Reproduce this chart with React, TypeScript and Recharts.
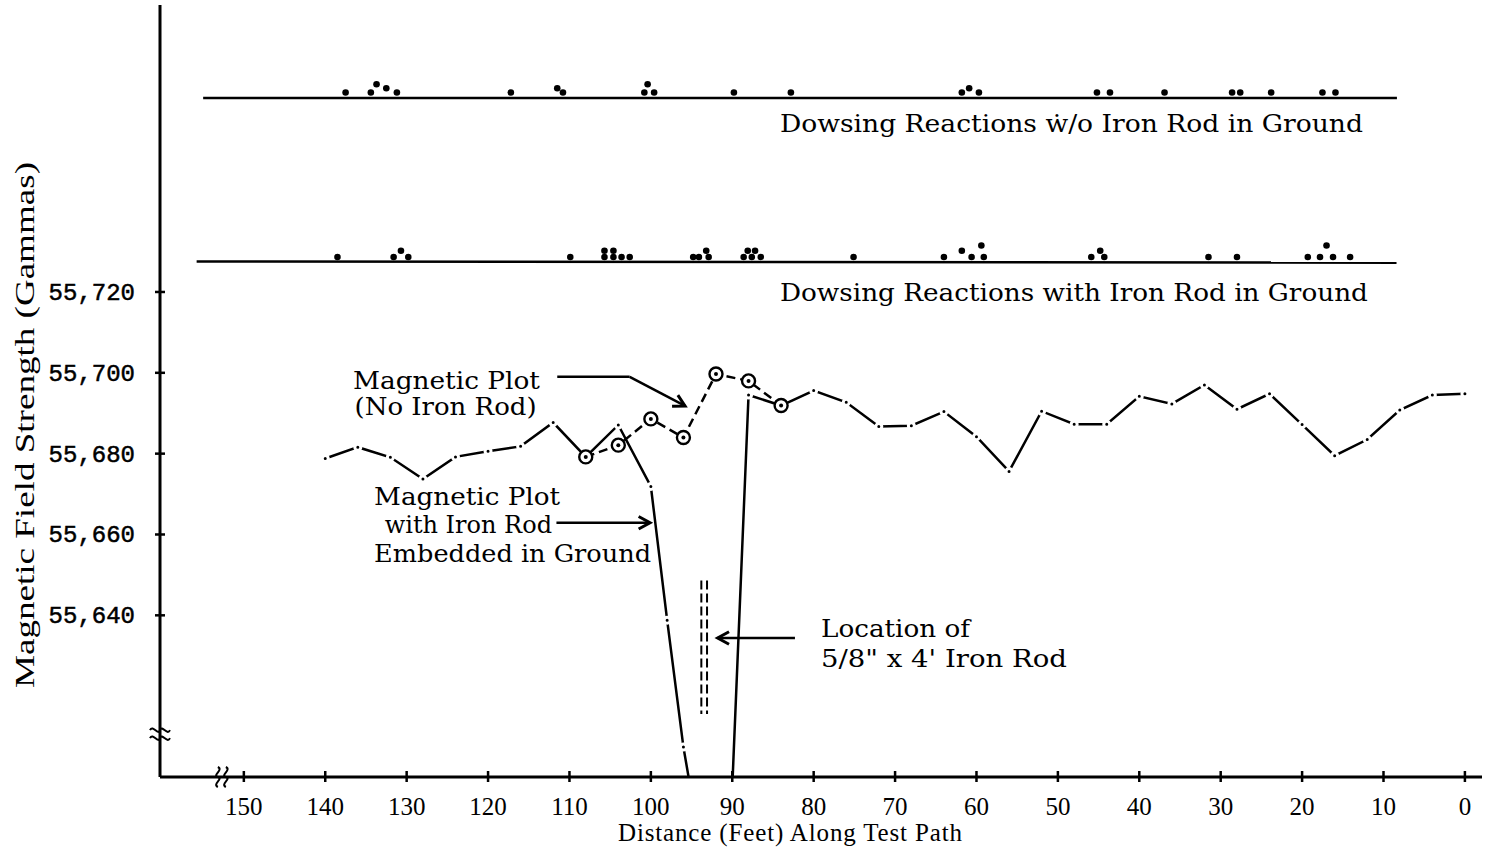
import { ComposedChart, Line, Scatter, XAxis, YAxis, ReferenceLine, ReferenceDot } from "recharts";

const WIDTH = 1488;
const HEIGHT = 851;
const INK = "#000";
const SERIF = "'Liberation Serif', 'Times New Roman', serif";
const TYPE = "'DejaVu Serif', serif";
const MONO = "'Liberation Mono', 'Courier New', monospace";

// axis ticks
const FT_TICKS = [150, 140, 130, 120, 110, 100, 90, 80, 70, 60, 50, 40, 30, 20, 10, 0];
const GAMMA_TICKS = [55640, 55660, 55680, 55700, 55720];

// magnetic plot with the iron rod embedded (91 ft dips off the bottom of the scale)
const withRodFt = [140, 136, 132, 128, 124, 120, 116, 112, 108, 104, 100, 98, 96, 91, 88, 84, 80, 76, 72, 68, 64, 60, 56, 52, 48, 44, 40, 36, 32, 28, 24, 20, 16, 12, 8, 4, 0];
const withRodGamma = [
  55678.8, 55681.6, 55679.1, 55673.7, 55679.2, 55680.6, 55681.8, 55687.7, 55679.2, 55687.1, 55671.9, 55638.8,
  55607.4, 55549, 55694.5, 55691.9, 55695.6, 55692.7, 55686.7, 55686.9, 55690.4, 55684.2, 55675.6, 55690.5,
  55687.3, 55687.3, 55694.2, 55692.3, 55697.0, 55691.0, 55694.8, 55687.2, 55679.5, 55683.5, 55690.8, 55694.5, 55694.8,
];

// magnetic plot, no iron rod
const noRodFt = [108, 104, 100, 96, 92, 88, 84];
const noRodGamma = [55679.2, 55682.1, 55688.6, 55684.0, 55699.7, 55698.0, 55691.9];

// dowsing reactions (distance, stack position)
const dowsingWithoutFt = [137.5, 134.4, 133.7, 132.5, 131.2, 117.2, 111.5, 110.8, 100.8, 100.4, 99.6, 89.8, 82.8, 61.8, 60.9, 59.7, 45.2, 43.6, 36.9, 28.6, 27.6, 23.8, 17.5, 15.9];
const dowsingWithoutStack = [0, 0, 2, 1, 0, 0, 1, 0, 0, 2, 0, 0, 0, 0, 1, 0, 0, 0, 0, 0, 0, 0, 0, 0];
const dowsingWithFt = [138.5, 131.6, 130.7, 129.8, 109.9, 105.7, 105.7, 104.6, 104.6, 103.6, 102.6, 94.8, 94.1, 93.2, 92.9, 88.6, 88.1, 87.6, 87.2, 86.5, 75.1, 64.0, 61.8, 60.6, 59.4, 59.1, 45.9, 44.8, 44.3, 31.5, 28.0, 19.3, 17.8, 17.0, 16.2, 14.1];
const dowsingWithStack = [0, 0, 1, 0, 0, 0, 1, 0, 1, 0, 0, 0, 0, 1, 0, 0, 1, 0, 1, 0, 0, 0, 1, 0, 2, 0, 0, 1, 0, 0, 0, 0, 0, 2, 0, 0];

const WITHOUT_LINE = 55768.0;
const WITH_LINE = 55727.4;
const WITHOUT_STACK = [1.35, 2.4, 3.4];
const WITH_STACK = [1.25, 2.8, 4.1];

const withRodData = withRodFt.map((ft, i) => ({ ft, g: withRodGamma[i] }));
const noRodData = noRodFt.map((ft, i) => ({ ft, g: noRodGamma[i] }));
const withoutDots = dowsingWithoutFt.map((ft, i) => ({ ft, g: WITHOUT_LINE + WITHOUT_STACK[dowsingWithoutStack[i]] }));
const withDots = dowsingWithFt.map((ft, i) => ({ ft, g: WITH_LINE + WITH_STACK[dowsingWithStack[i]] }));

// annotation text, anchored in chart units
const notes = [
  { ft: 84.15, g: 55759.6, text: "Dowsing Reactions \u1E87/o Iron Rod in Ground", len: 583 },
  { ft: 84.15, g: 55717.8, text: "Dowsing Reactions with Iron Rod in Ground", len: 588 },
  { ft: 136.6, g: 55696.0, text: "Magnetic Plot", len: 187 },
  { ft: 136.4, g: 55689.6, text: "(No Iron Rod)", len: 182 },
  { ft: 134.0, g: 55667.3, text: "Magnetic Plot", len: 186 },
  { ft: 132.7, g: 55660.4, text: "with Iron Rod", len: 0 },
  { ft: 134.0, g: 55653.2, text: "Embedded in Ground", len: 277 },
  { ft: 79.1, g: 55634.6, text: "Location of", len: 149 },
  { ft: 79.1, g: 55627.2, text: "5/8\" x 4' Iron Rod", len: 246 },
];

const arrows = [
  { from: [111.5, 55699.0], to: [102.6, 55699.0], head: false },
  { from: [102.6, 55699.0], to: [95.8, 55691.8], head: true },
  { from: [111.6, 55662.9], to: [100.1, 55662.9], head: true },
  { from: [82.3, 55634.4], to: [91.8, 55634.4], head: true },
];

// the rod itself, drawn as a pair of dashed lines
const rodFt = [93.8, 93.1];
const rodTop = 55648.6;
const rodBottom = 55615.6;

function XTick(props: any) {
  const { x, y, payload } = props;
  return (
    <g>
      <line x1={x} y1={y - 6} x2={x} y2={y + 5} stroke={INK} strokeWidth={2.5} />
      <text x={x} y={y + 38} textAnchor="middle" fontFamily={SERIF} fontSize={25} fill={INK}>
        {payload.value}
      </text>
    </g>
  );
}

function YTick(props: any) {
  const { x, y, payload } = props;
  const v = payload.value;
  const label = `${Math.floor(v / 1000)},${String(v % 1000).padStart(3, "0")}`;
  return (
    <g>
      <line x1={x - 5} y1={y} x2={x + 5} y2={y} stroke={INK} strokeWidth={2.5} />
      <text
        x={x - 25}
        y={y + 8}
        textAnchor="end"
        fontFamily={MONO}
        fontSize={24}
        fill={INK}
        stroke={INK}
        strokeWidth={0.5}
      >
        {label}
      </text>
    </g>
  );
}

function arrowShape(head: boolean) {
  return (p: any) => {
    const { x1, y1, x2, y2 } = p;
    const a = Math.atan2(y2 - y1, x2 - x1);
    const L = 13;
    const s = 0.5;
    const h1 = [x2 - L * Math.cos(a - s), y2 - L * Math.sin(a - s)];
    const h2 = [x2 - L * Math.cos(a + s), y2 - L * Math.sin(a + s)];
    return (
      <g>
        <line x1={x1} y1={y1} x2={x2} y2={y2} stroke={INK} strokeWidth={2.5} />
        {head && (
          <path
            d={`M${h1[0]},${h1[1]} L${x2},${y2} L${h2[0]},${h2[1]}`}
            fill="none"
            stroke={INK}
            strokeWidth={3}
            strokeLinejoin="miter"
          />
        )}
      </g>
    );
  };
}

const dowsingDot = (p: any) => <circle cx={p.cx} cy={p.cy} r={3.3} fill={INK} />;

const rodDot = (p: any) => {
  if (p.cx == null || p.cy == null) return <g key={p.index} />;
  return <circle key={p.index} cx={p.cx} cy={p.cy} r={3} fill={INK} stroke="#fff" strokeWidth={3} />;
};

const circledDot = (p: any) => {
  if (p.cx == null || p.cy == null) return <g key={p.index} />;
  return (
    <g key={p.index}>
      <circle cx={p.cx} cy={p.cy} r={6.5} fill="#fff" stroke={INK} strokeWidth={2.4} />
      <circle cx={p.cx} cy={p.cy} r={2} fill={INK} />
    </g>
  );
};

const xBreak = (p: any) => (
  <g fill="none" stroke={INK} strokeWidth={2}>
    <path d={`M${p.cx - 4},${p.cy - 10} c 6,3 -6,8 0,10 c 6,2 -6,7 0,10`} />
    <path d={`M${p.cx + 4},${p.cy - 10} c 6,3 -6,8 0,10 c 6,2 -6,7 0,10`} />
  </g>
);

const yBreak = (p: any) => (
  <g fill="none" stroke={INK} strokeWidth={2}>
    <path d={`M${p.cx - 10},${p.cy - 4} c 3,-6 8,6 10,0 c 2,-6 7,6 10,0`} />
    <path d={`M${p.cx - 10},${p.cy + 4} c 3,-6 8,6 10,0 c 2,-6 7,6 10,0`} />
  </g>
);

export default function App() {
  return (
    <div style={{ position: "absolute", left: 0, top: 0, background: "#fff" }}>
      <ComposedChart width={WIDTH} height={HEIGHT} margin={{ top: 5, right: 6, bottom: 0, left: 0 }}>
        <XAxis
          type="number"
          dataKey="ft"
          domain={[-2.1, 160.3]}
          reversed
          allowDataOverflow
          ticks={FT_TICKS}
          interval={0}
          height={74}
          tickLine={false}
          tickSize={0}
          tickMargin={0}
          tick={<XTick />}
          axisLine={{ stroke: INK, strokeWidth: 3 }}
          label={{
            content: () => (
              <text x={790} y={841} textAnchor="middle" fontFamily={SERIF} fontSize={25} textLength={344} fill={INK}>
                Distance (Feet) Along Test Path
              </text>
            ),
          }}
        />
        <YAxis
          type="number"
          dataKey="g"
          domain={[55600, 55791]}
          allowDataOverflow
          ticks={GAMMA_TICKS}
          interval={0}
          width={160}
          tickLine={false}
          tickSize={0}
          tickMargin={0}
          tick={<YTick />}
          axisLine={{ stroke: INK, strokeWidth: 3 }}
          label={{
            content: () => (
              <text
                x={0}
                y={0}
                transform="translate(34,425) rotate(-90)"
                textAnchor="middle"
                fontFamily={SERIF}
                fontSize={28}
                textLength={526}
                lengthAdjust="spacingAndGlyphs"
                fill={INK}
              >
                Magnetic Field Strength (Gammas)
              </text>
            ),
          }}
        />

        <ReferenceLine
          segment={[{ x: 155.0, y: WITHOUT_LINE }, { x: 8.35, y: WITHOUT_LINE }]}
          stroke={INK}
          strokeWidth={2.6}
          ifOverflow="visible"
        />
        <ReferenceLine
          segment={[{ x: 155.8, y: WITH_LINE + 0.15 }, { x: 8.4, y: WITH_LINE - 0.15 }]}
          stroke={INK}
          strokeWidth={2.6}
          ifOverflow="visible"
        />
        <Scatter data={withoutDots} dataKey="g" shape={dowsingDot} isAnimationActive={false} />
        <Scatter data={withDots} dataKey="g" shape={dowsingDot} isAnimationActive={false} />

        {rodFt.map((ft) => (
          <ReferenceLine
            key={ft}
            segment={[{ x: ft, y: rodTop }, { x: ft, y: rodBottom }]}
            stroke={INK}
            strokeWidth={2}
            strokeDasharray="9 4"
            ifOverflow="visible"
          />
        ))}

        {arrows.map((a, i) => (
          <ReferenceLine
            key={`arrow-${i}`}
            segment={[{ x: a.from[0], y: a.from[1] }, { x: a.to[0], y: a.to[1] }]}
            ifOverflow="visible"
            shape={arrowShape(a.head)}
          />
        ))}

        {notes.map((n, i) => (
          <ReferenceDot
            key={`note-${i}`}
            x={n.ft}
            y={n.g}
            r={0}
            ifOverflow="visible"
            shape={(p: any) => (
              <text
                x={p.cx}
                y={p.cy}
                fontFamily={TYPE}
                fontSize={24}
                fill={INK}
                textLength={n.len || undefined}
                lengthAdjust="spacingAndGlyphs"
              >
                {n.text}
              </text>
            )}
          />
        ))}

        <ReferenceDot x={152.7} y={55600} r={0} ifOverflow="visible" shape={xBreak} />
        <ReferenceDot x={160.3} y={55610.6} r={0} ifOverflow="visible" shape={yBreak} />

        <Line
          data={withRodData}
          dataKey="g"
          type="linear"
          stroke={INK}
          strokeWidth={2.5}
          dot={rodDot}
          activeDot={false}
          isAnimationActive={false}
        />
        <Line
          data={noRodData}
          dataKey="g"
          type="linear"
          stroke={INK}
          strokeWidth={2.5}
          strokeDasharray="9 5"
          dot={circledDot}
          activeDot={false}
          isAnimationActive={false}
        />
      </ComposedChart>
    </div>
  );
}
